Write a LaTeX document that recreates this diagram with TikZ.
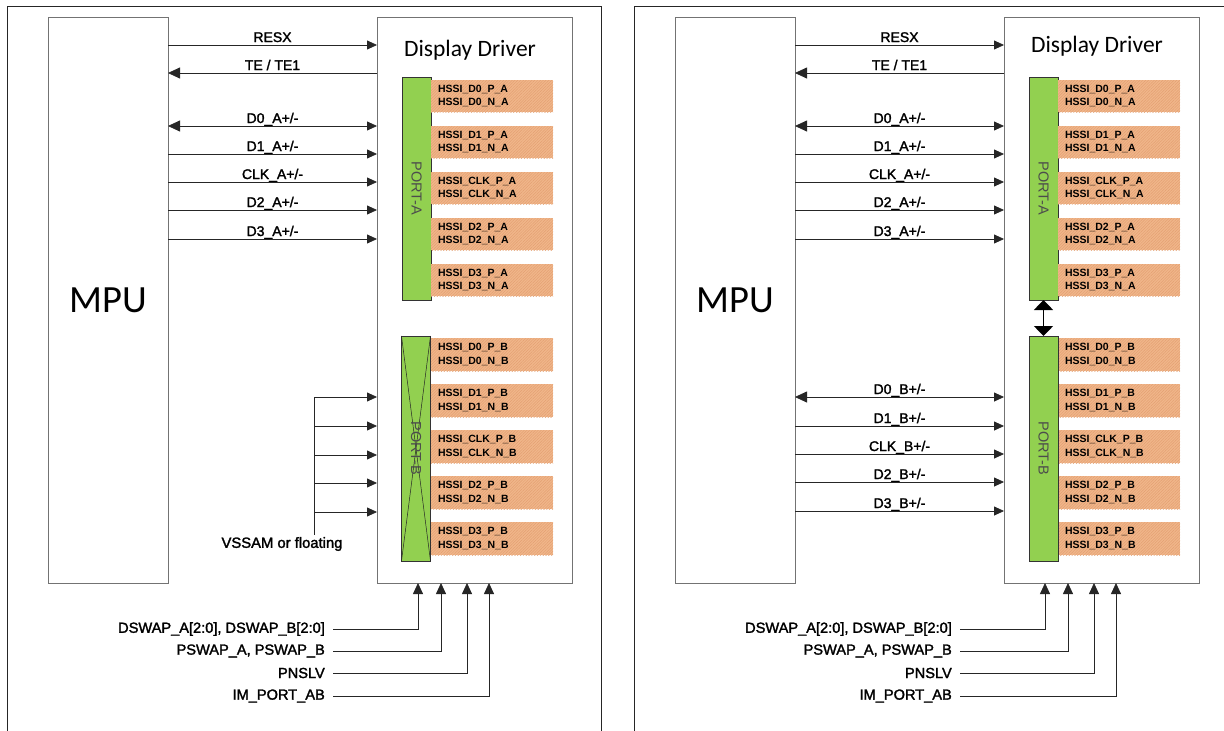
\documentclass[tikz,border=0pt]{standalone}
\usepackage{fontspec}
\setmainfont{Liberation Sans}
\newfontfamily\titlefont{Carlito}
\newfontfamily\lblfont[FakeBold=1.8]{Liberation Sans}
\usetikzlibrary{arrows.meta,patterns.meta}
\definecolor{padfill}{RGB}{240,182,138}
\definecolor{padhatch}{RGB}{228,160,114}
\definecolor{portgreen}{RGB}{146,208,80}
\definecolor{boxgray}{RGB}{115,115,115}
\tikzset{
  box/.style={draw=boxgray,line width=0.9pt,inner sep=0pt,outer sep=0pt},
  frameline/.style={draw=black!85,line width=0.9pt},
  portbar/.style={draw=black!80,fill=portgreen,line width=0.8pt,inner sep=0pt,outer sep=0pt,minimum width=29pt},
  portlbl/.style={rotate=-90,text=black!70,inner sep=0pt,font=\fontsize{14.5}{16}\selectfont},
  pad/.style={fill=padfill,postaction={pattern={Lines[angle=45,distance=2pt,line width=0.5pt]},pattern color=padhatch},
    minimum width=122pt,inner sep=0pt,outer sep=0pt,text width=108pt,align=left,
    font=\fontsize{10.5}{13.5}\selectfont\bfseries},
  sig/.style={draw=black!85,line width=0.8pt},
  tipS/.style={-{Triangle[length=10pt,width=9pt]}},
  tipL/.style={-{Triangle[length=12pt,width=11pt]}},
  tipLS/.style={{Triangle[length=12pt,width=11pt]}-{Triangle[length=10pt,width=9pt]}},
  tipU/.style={-{Triangle[length=11pt,width=10pt]}},
  siglbl/.style={anchor=base,yshift=3pt,inner sep=0pt,font=\lblfont\fontsize{14}{16}\selectfont},
  botlbl/.style={anchor=east,inner xsep=8pt,inner ysep=0pt,font=\lblfont\fontsize{14.6}{16}\selectfont},
  ddtitle/.style={inner sep=0pt,font=\titlefont\fontsize{23.5}{26}\selectfont},
  mputxt/.style={font=\titlefont\fontsize{38.5}{40}\selectfont}
}
\newcommand\panelcommon{%
  \node[box,minimum width=120pt,minimum height=566pt,mputxt] (mpu) at (108,300) {MPU};
  \node[box,minimum width=195pt,minimum height=566pt] (dd) at (474.5,300) {};
  \node[portbar,minimum height=223pt] (pa) at (416.5,188.5) {};
  \node[portlbl] (palbl) at (pa.center) {PORT-A};
  \foreach \i/\y/\n in {0/96/D0,1/142/D1,2/188/CLK,3/234/D2,4/280/D3}
    \node[pad,minimum height=32pt] (padA\i) at (492,\y) {HSSI\_\n\_P\_A\\HSSI\_\n\_N\_A};
  \foreach \i/\y/\n in {0/354.5/D0,1/400.5/D1,2/446.5/CLK,3/492.5/D2,4/538.5/D3}
    \node[pad,minimum height=33pt] (padB\i) at (492,\y) {HSSI\_\n\_P\_B\\HSSI\_\n\_N\_B};
  \draw[sig,tipS] (mpu.east |- 0,45) -- node[siglbl]{RESX} (dd.west |- 0,45);
  \draw[sig,tipL] (dd.west |- 0,73) -- node[siglbl]{TE / TE1} (mpu.east |- 0,73);
  \draw[sig,tipLS] (mpu.east |- 0,126) -- (dd.west |- 0,126);
  \path (dd.west |- 0,126) -- node[siglbl]{D0\_A+/-} (mpu.east |- 0,126);
  \draw[sig,tipS] (mpu.east |- 0,154) -- node[siglbl]{D1\_A+/-} (dd.west |- 0,154);
  \draw[sig,tipS] (mpu.east |- 0,182) -- node[siglbl]{CLK\_A+/-} (dd.west |- 0,182);
  \draw[sig,tipS] (mpu.east |- 0,210) -- node[siglbl]{D2\_A+/-} (dd.west |- 0,210);
  \draw[sig,tipS] (mpu.east |- 0,239) -- node[siglbl]{D3\_A+/-} (dd.west |- 0,239);
  \node[botlbl] (b1) at (333,629) {DSWAP\_A[2:0], DSWAP\_B[2:0]};
  \node[botlbl] (b2) at (333,651) {PSWAP\_A, PSWAP\_B};
  \node[botlbl] (b3) at (333,673) {PNSLV};
  \node[botlbl] (b4) at (333,696) {IM\_PORT\_AB};
  \draw[sig,tipU] (b1.east) -| (418,0 |- dd.south);
  \draw[sig,tipU] (b2.east) -| (441,0 |- dd.south);
  \draw[sig,tipU] (b3.east) -| (467,0 |- dd.south);
  \draw[sig,tipU] (b4.east) -| (489,0 |- dd.south);
}
\begin{document}
\begin{tikzpicture}[x=1pt,y=-1pt]
\useasboundingbox[fill=white] (0,0) rectangle (1224,731);
% left panel
\draw[frameline] (7,731) -- (7,6) -- (601,6) -- (601,731);
\begin{scope}[name prefix=L-]
  \panelcommon
  \node[ddtitle] (title) at (470,50) {Display Driver};
  \node[portbar,minimum height=225pt] (pb) at (416,448.5) {};
  \draw[line width=0.5pt,black!85] (pb.north west) -- (pb.south east) (pb.north east) -- (pb.south west);
  \node[portlbl] (pblbl) at (pb.center) {PORT-B};
  \node[font=\lblfont\fontsize{14.8}{16}\selectfont,inner sep=2pt] (vss) at (282,544) {VSSAM or floating};
  \coordinate (vtop) at (314,397);
  \draw[sig] (vss.north -| vtop) -- (vtop);
  \foreach \y in {397,426,455,483,512}
    \draw[sig,tipS] (vtop |- 0,\y) -- (dd.west |- 0,\y);
\end{scope}
% right panel
\draw[frameline] (634,731) -- (634,6) -- (1224,6);
\begin{scope}[xshift=627pt,name prefix=R-]
  \panelcommon
  \node[ddtitle] (title) at (470,46) {Display Driver};
  \node[portbar,minimum height=225pt] (pb) at (416.5,448.5) {};
  \node[portlbl] (pblbl) at (pb.center) {PORT-B};
  \draw[line width=1.6pt,{Triangle[length=10pt,width=19pt]}-{Triangle[length=10pt,width=19pt]}] (pa.south) -- (pb.north);
  \draw[sig,tipLS] (mpu.east |- 0,397) -- (dd.west |- 0,397);
  \path (dd.west |- 0,397) -- node[siglbl]{D0\_B+/-} (mpu.east |- 0,397);
  \draw[sig,tipS] (mpu.east |- 0,426) -- node[siglbl]{D1\_B+/-} (dd.west |- 0,426);
  \draw[sig,tipS] (mpu.east |- 0,454) -- node[siglbl]{CLK\_B+/-} (dd.west |- 0,454);
  \draw[sig,tipS] (mpu.east |- 0,482) -- node[siglbl]{D2\_B+/-} (dd.west |- 0,482);
  \draw[sig,tipS] (mpu.east |- 0,511) -- node[siglbl]{D3\_B+/-} (dd.west |- 0,511);
\end{scope}
\end{tikzpicture}
\end{document}
